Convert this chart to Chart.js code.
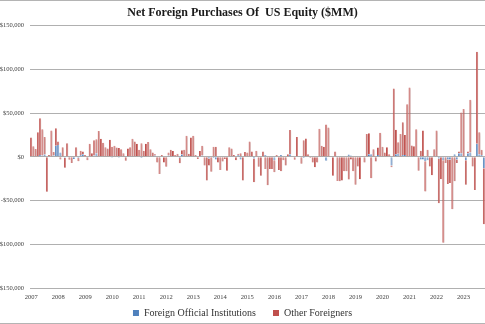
<!DOCTYPE html>
<html>
<head>
<meta charset="utf-8">
<title>Net Foreign Purchases Of US Equity</title>
<script src="https://cdn.jsdelivr.net/npm/chart.js@4.4.0/dist/chart.umd.min.js"></script>
<style>
	html, body { margin: 0; padding: 0; background: #fff; }
	#wrap { width: 485px; height: 324px; }
</style>
</head>
<body>
<div id="wrap"><canvas id="equity-flows" width="485" height="324"></canvas></div>
<script>
	// Year labels, one per January
	var years = ['2007', '2008', '2009', '2010', '2011', '2012', '2013', '2014', '2015',
		'2016', '2017', '2018', '2019', '2020', '2021', '2022', '2023'];

	// Monthly net purchases, $MM (Jan 2007 onwards)
	var official = [
		0, 0, 0, 0, 2000, 1500, 2500, 0, 0, 0,
		1500, 12500, 13500, 5000, 0, -1000, 0, 0, 0, -2500,
		0, -1500, 2000, 3000, 0, 0, 0, 0, 1500, 4000,
		0, 0, 0, 0, 0, 0, -1000, 0, 0, -1000,
		0, 0, 1000, 0, 0, 0, 0, 0, 0, -1500,
		0, 0, 0, 0, 0, 1500, 0, 0, 0, 0,
		0, 1500, 0, 1000, 0, 0, -1500, 2500, 0, 0,
		0, 0, 0, 0, 0, 0, 1500, 0, 0, -2000,
		0, -1500, -3000, 0, 0, 0, 0, 0, 0, 0,
		0, 0, 2000, -3000, 0, 0, 0, 0, 0, -2000,
		0, 0, 0, 0, 2000, 0, 0, 0, -4000, 0,
		0, 2000, 0, 0, 0, 3000, 0, 0, 0, 0,
		0, -1500, 0, 0, 0, 0, 0, 0, 0, 0,
		0, -4500, 0, 0, 0, 0, 0, 0, 0, 0,
		0, 2500, 1500, 0, 0, 0, 0, 0, 0, 0,
		3000, 3000, 0, 0, 2000, 0, 0, 0, 0, 0,
		-10000, 0, 3000, 3500, 0, 2000, 2000, 0, 1000, 0,
		0, 0, 0, -3000, -3000, -5000, -4000, 0, 0, 0,
		0, -2000, 0, -4000, 0, -3000, -3000, 0, 3000, -3000,
		4000, 4000, 0, -4000, 4000, 5000, 0, 0, 15000, 3000,
		2000, -13000
	];
	var others = [
		22000, 12000, 9000, 28000, 42000, 30000, 20000, -40000, 2000, 30000,
		4000, 20000, 4000, -3000, 11000, -11500, 15500, -3500, -7000, 1000,
		11000, -3500, 5000, 3000, 2000, -4000, 15000, 4000, 17500, 16000,
		29500, 20500, 16000, 11000, 9500, 19500, 11500, 12500, 10500, 10000,
		8700, 4000, -4500, 9500, 11000, 20500, 17500, 15000, 8000, 15500,
		7000, 15000, 17000, 8700, 5000, 1500, -6500, -19500, 2000, -6500,
		-11500, 3500, 8000, 5500, 2000, 3500, -6000, 5000, 8000, 24000,
		3500, 22000, 24000, 2000, -2500, 6500, 11000, -10000, -27000, -8000,
		-17000, 11500, 11500, -6500, -15000, -5500, -2500, -16000, 11000, 9500,
		2000, -4000, 1500, 4000, -27000, 5500, 5000, 17500, 6000, -27000,
		7000, -11500, -21500, 6000, -14000, -32500, -14000, -14000, -13500, 2000,
		-15000, -16500, -4000, -10000, 3000, 27500, 500, -3500, 22500, 500,
		-8000, 19000, 21000, 3000, -1500, -6500, -12000, -6500, 32000, 12500,
		11500, 37000, 33500, 500, -21500, 6000, -27500, -28000, -27000, -16500,
		-16500, -26000, -3000, -16500, -32000, -11000, -25500, 1000, -6500, 26000,
		24000, -24500, 8500, -5500, 8500, 27500, 11500, 5000, 11000, 3000,
		-2000, 78000, 28000, 13000, 26000, 37500, 23000, 60000, 78000, 13000,
		12000, 31500, -16000, 7000, 30000, -34500, 8000, -11000, -21000, 8500,
		30000, -51000, -25500, -94000, -7000, -28000, -27000, -60000, -28000, -4000,
		2000, 46500, 54500, -28000, 2000, 60000, -11000, -38000, 105000, 25000,
		6000, -64000
	];

	// one category per month, labelled by year
	var months = [];
	for (var i = 0; i < others.length; i++) {
		months.push(years[Math.floor(i / 12)] + '-' + ((i % 12) + 1));
	}

	var serif = 'Liberation Serif';

	// soft grey drop shadow behind the bars
	var barShadow = {
		id: 'barShadow',
		beforeDatasetsDraw: function (chart) {
			var c = chart.ctx;
			c.save();
			c.shadowColor = 'rgba(0, 0, 0, 0.28)';
			c.shadowBlur = 2;
			c.shadowOffsetX = 1.5;
			c.shadowOffsetY = 1;
		},
		afterDatasetsDraw: function (chart) {
			chart.ctx.restore();
		},
	};

	// thin rules at the top and bottom of the picture
	var frame = {
		id: 'frame',
		afterDraw: function (chart) {
			var c = chart.ctx;
			c.save();
			c.strokeStyle = '#b4b4b4';
			c.lineWidth = 1;
			c.beginPath();
			c.moveTo(0, 0.5);
			c.lineTo(chart.width, 0.5);
			c.moveTo(0, 323.5);
			c.lineTo(chart.width, 323.5);
			c.stroke();
			c.restore();
		},
	};

	var money = function (v) {
		var s = '$' + Math.abs(v).toLocaleString('en-US');
		return v < 0 ? '-' + s : s;
	};

	var ctx = document.getElementById('equity-flows').getContext('2d');
	var flowsChart = new Chart(ctx, {
		type: 'bar',
		data: {
			labels: months,
			datasets: [
				{
					label: 'Foreign Official Institutions',
					data: official,
					backgroundColor: '#86a7d2',
					borderColor: '#4f81bd',
					borderWidth: { left: 1, right: 0, top: 0, bottom: 0 },
					borderSkipped: false,
				},
				{
					label: 'Other Foreigners',
					data: others,
					backgroundColor: '#d07b78',
					borderColor: '#c0504d',
					borderWidth: { left: 1, right: 0, top: 0, bottom: 0 },
					borderSkipped: false,
				},
			],
		},
		options: {
			responsive: false,
			animation: false,
			layout: { padding: { left: 0, right: 0, top: 0, bottom: -4 } },
			datasets: { bar: { barPercentage: 0.9, categoryPercentage: 1 } },
			scales: {
				x: {
					stacked: true,
					grid: { display: false, drawTicks: false },
					border: { display: false },
					ticks: {
						autoSkip: false,
						maxRotation: 0,
						minRotation: 0,
						padding: 5,
						color: '#404040',
						font: { family: serif, size: 6.5 },
						callback: function (v, i) {
							return i % 12 === 0 ? years[i / 12] : '';
						},
					},
					afterFit: function (scale) {
						// let the months run right to the edge
						scale.paddingLeft = 0;
						scale.paddingRight = 0;
					},
				},
				y: {
					stacked: true,
					min: -150000,
					max: 150000,
					grid: { color: '#b0b0b0', drawTicks: false },
					border: { display: false },
					ticks: {
						stepSize: 50000,
						padding: 6,
						color: '#404040',
						font: { family: serif, size: 6.5 },
						callback: money,
					},
					afterFit: function (scale) {
						scale.width = 30;
					},
				},
			},
			plugins: {
				title: {
					display: true,
					text: 'Net Foreign Purchases Of  US Equity ($MM)',
					color: '#1a1a1a',
					font: { family: serif, size: 12, weight: 'bold' },
					padding: { top: 6, bottom: 5 },
				},
				legend: {
					position: 'bottom',
					labels: {
						boxWidth: 6,
						boxHeight: 6,
						padding: 2,
						color: '#333333',
						font: { family: serif, size: 10 },
						generateLabels: function (chart) {
							return Chart.defaults.plugins.legend.labels.generateLabels(chart).map(function (item, k) {
								item.fillStyle = item.strokeStyle;
								item.lineWidth = 0;
								if (k === 0) item.text += '\u2003\u2002';
								return item;
							});
						},
					},
				},
				tooltip: { enabled: false },
			},
		},
		plugins: [barShadow, frame],
	});
</script>
</body>
</html>
